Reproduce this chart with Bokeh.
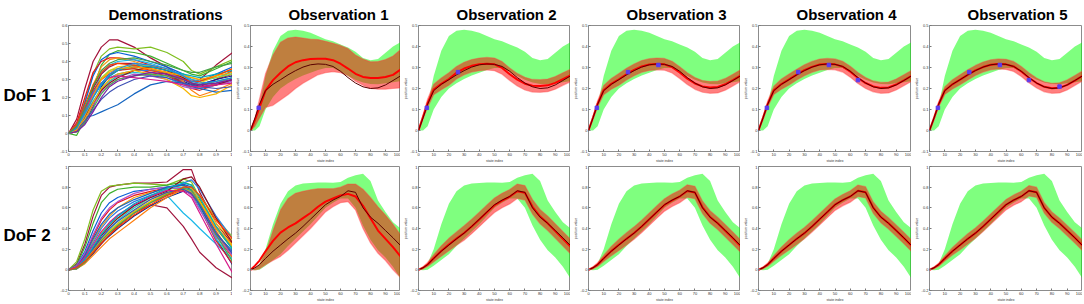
from bokeh.plotting import figure
from bokeh.layouts import row, column
from bokeh.models import FixedTicker
from bokeh.embed import file_html
from bokeh.resources import INLINE

FONT = "Liberation Sans"

# ---------------- data ----------------
TITLES = ["Demonstrations", "Observation 1", "Observation 2", "Observation 3", "Observation 4", "Observation 5"]
ROW_LABELS = ["DoF 1", "DoF 2"]

# demonstrations
X_DEMO = [0, 0.05, 0.1, 0.15, 0.2, 0.25, 0.3, 0.4, 0.5, 0.6, 0.7, 0.75, 0.8, 0.9, 1.0]
DEMO1 = [
    [0, 0.08, 0.25, 0.40, 0.48, 0.52, 0.52, 0.48, 0.42, 0.37, 0.31, 0.29, 0.30, 0.38, 0.45],
    [0, 0.05, 0.18, 0.33, 0.43, 0.47, 0.48, 0.47, 0.48, 0.45, 0.40, 0.35, 0.33, 0.37, 0.41],
    [0, -0.01, 0.08, 0.25, 0.38, 0.44, 0.46, 0.45, 0.43, 0.39, 0.35, 0.33, 0.32, 0.36, 0.40],
    [0, 0.04, 0.17, 0.32, 0.41, 0.44, 0.45, 0.43, 0.40, 0.37, 0.33, 0.30, 0.29, 0.33, 0.37],
    [0, 0.06, 0.20, 0.34, 0.40, 0.42, 0.42, 0.41, 0.38, 0.35, 0.30, 0.28, 0.27, 0.30, 0.35],
    [0, 0.03, 0.12, 0.27, 0.37, 0.41, 0.42, 0.40, 0.37, 0.35, 0.31, 0.27, 0.25, 0.28, 0.31],
    [0, 0.02, 0.10, 0.22, 0.33, 0.38, 0.40, 0.41, 0.39, 0.36, 0.32, 0.30, 0.29, 0.31, 0.34],
    [0, 0.03, 0.13, 0.25, 0.33, 0.37, 0.39, 0.39, 0.36, 0.33, 0.28, 0.26, 0.26, 0.30, 0.33],
    [0, 0.02, 0.09, 0.20, 0.30, 0.35, 0.37, 0.38, 0.38, 0.36, 0.31, 0.28, 0.28, 0.32, 0.36],
    [0, 0.01, 0.06, 0.15, 0.26, 0.32, 0.35, 0.37, 0.36, 0.33, 0.29, 0.27, 0.27, 0.30, 0.32],
    [0, 0.02, 0.11, 0.23, 0.31, 0.35, 0.36, 0.36, 0.35, 0.34, 0.33, 0.31, 0.30, 0.31, 0.33],
    [0, 0.04, 0.14, 0.24, 0.30, 0.33, 0.35, 0.36, 0.34, 0.32, 0.28, 0.25, 0.24, 0.27, 0.30],
    [0, 0.05, 0.15, 0.23, 0.28, 0.31, 0.33, 0.35, 0.35, 0.34, 0.30, 0.28, 0.27, 0.28, 0.30],
    [0, 0.01, 0.07, 0.16, 0.24, 0.29, 0.32, 0.35, 0.36, 0.34, 0.29, 0.24, 0.21, 0.24, 0.28],
    [0, 0.03, 0.10, 0.18, 0.25, 0.29, 0.32, 0.34, 0.33, 0.31, 0.27, 0.25, 0.25, 0.27, 0.29],
    [0, 0.02, 0.08, 0.16, 0.23, 0.27, 0.30, 0.33, 0.32, 0.30, 0.26, 0.25, 0.25, 0.27, 0.29],
    [0, 0.03, 0.09, 0.17, 0.24, 0.28, 0.31, 0.35, 0.37, 0.35, 0.31, 0.28, 0.26, 0.27, 0.30],
    [0, 0.02, 0.09, 0.10, 0.12, 0.14, 0.16, 0.22, 0.27, 0.29, 0.28, 0.26, 0.25, 0.23, 0.24],
    [0, 0.02, 0.08, 0.17, 0.25, 0.30, 0.33, 0.35, 0.33, 0.30, 0.25, 0.21, 0.20, 0.22, 0.27],
    [0, 0.01, 0.06, 0.14, 0.22, 0.27, 0.30, 0.32, 0.33, 0.32, 0.30, 0.28, 0.27, 0.29, 0.31],
    [0, 0.02, 0.07, 0.13, 0.19, 0.23, 0.26, 0.30, 0.32, 0.31, 0.28, 0.27, 0.26, 0.25, 0.26],
    [0, 0.04, 0.13, 0.22, 0.28, 0.31, 0.32, 0.31, 0.30, 0.29, 0.27, 0.26, 0.26, 0.27, 0.28],
    [0, 0.03, 0.12, 0.20, 0.27, 0.32, 0.35, 0.38, 0.37, 0.35, 0.33, 0.32, 0.31, 0.33, 0.35],
    [0, 0.05, 0.16, 0.27, 0.34, 0.38, 0.39, 0.38, 0.35, 0.33, 0.30, 0.29, 0.29, 0.32, 0.36],
    [0, 0.02, 0.10, 0.21, 0.30, 0.34, 0.36, 0.37, 0.36, 0.34, 0.32, 0.31, 0.30, 0.32, 0.34],
    [0, 0.03, 0.11, 0.20, 0.28, 0.33, 0.36, 0.39, 0.38, 0.36, 0.32, 0.29, 0.28, 0.29, 0.31],
    [0, 0.01, 0.05, 0.12, 0.20, 0.26, 0.29, 0.32, 0.34, 0.33, 0.30, 0.28, 0.27, 0.28, 0.30],
    [0, 0.04, 0.14, 0.26, 0.35, 0.39, 0.41, 0.42, 0.40, 0.38, 0.35, 0.34, 0.34, 0.37, 0.39],
]
DEMO2 = [
    [0, 0.06, 0.25, 0.52, 0.72, 0.80, 0.82, 0.84, 0.84, 0.85, 0.97, 0.97, 0.75, 0.45, 0.25],
    [0, 0.08, 0.30, 0.58, 0.76, 0.81, 0.82, 0.84, 0.83, 0.82, 0.88, 0.85, 0.70, 0.42, 0.22],
    [0, 0.05, 0.22, 0.45, 0.65, 0.74, 0.78, 0.80, 0.80, 0.82, 0.85, 0.82, 0.68, 0.40, 0.20],
    [0, 0.04, 0.18, 0.38, 0.55, 0.65, 0.70, 0.76, 0.78, 0.80, 0.83, 0.80, 0.65, 0.35, 0.15],
    [0, 0.03, 0.15, 0.32, 0.48, 0.58, 0.65, 0.72, 0.76, 0.79, 0.82, 0.78, 0.62, 0.33, 0.12],
    [0, 0.03, 0.13, 0.28, 0.42, 0.52, 0.60, 0.70, 0.75, 0.78, 0.80, 0.78, 0.66, 0.40, 0.23],
    [0, 0.02, 0.10, 0.22, 0.35, 0.45, 0.52, 0.62, 0.70, 0.72, 0.55, 0.48, 0.40, 0.25, 0.10],
    [0, 0.02, 0.08, 0.16, 0.25, 0.34, 0.42, 0.55, 0.63, 0.60, 0.42, 0.30, 0.17, 0.02, -0.08],
    [0, 0.02, 0.11, 0.24, 0.36, 0.44, 0.50, 0.60, 0.68, 0.75, 0.80, 0.79, 0.70, 0.45, 0.28],
    [0, 0.01, 0.07, 0.16, 0.26, 0.33, 0.40, 0.52, 0.62, 0.70, 0.76, 0.74, 0.62, 0.30, 0.05],
    [0, 0.02, 0.10, 0.20, 0.30, 0.38, 0.45, 0.57, 0.66, 0.74, 0.80, 0.79, 0.72, 0.50, 0.32],
    [0, 0.02, 0.09, 0.18, 0.28, 0.36, 0.43, 0.55, 0.65, 0.72, 0.77, 0.74, 0.60, 0.28, 0.06],
    [0, 0.03, 0.12, 0.26, 0.40, 0.50, 0.57, 0.66, 0.72, 0.77, 0.84, 0.87, 0.78, 0.52, 0.30],
    [0, 0.01, 0.06, 0.14, 0.22, 0.30, 0.36, 0.48, 0.60, 0.70, 0.78, 0.76, 0.66, 0.38, 0.12],
    [0, 0.02, 0.08, 0.18, 0.30, 0.40, 0.48, 0.60, 0.70, 0.78, 0.80, 0.76, 0.60, 0.30, 0.10],
    [0, 0.04, 0.16, 0.34, 0.50, 0.60, 0.66, 0.74, 0.78, 0.80, 0.78, 0.72, 0.58, 0.32, 0.14],
    [0, 0.02, 0.10, 0.21, 0.33, 0.42, 0.50, 0.62, 0.70, 0.76, 0.88, 0.90, 0.80, 0.50, 0.26],
    [0, 0.03, 0.14, 0.30, 0.44, 0.54, 0.60, 0.68, 0.74, 0.80, 0.82, 0.77, 0.62, 0.35, 0.18],
    [0, 0.02, 0.09, 0.19, 0.29, 0.37, 0.44, 0.56, 0.66, 0.74, 0.78, 0.75, 0.66, 0.42, 0.24],
    [0, 0.01, 0.07, 0.17, 0.28, 0.36, 0.43, 0.55, 0.65, 0.73, 0.79, 0.77, 0.64, 0.34, 0.08],
    [0, 0.02, 0.10, 0.20, 0.31, 0.40, 0.47, 0.58, 0.68, 0.75, 0.78, 0.74, 0.63, 0.36, 0.16],
    [0, 0.03, 0.12, 0.24, 0.37, 0.46, 0.53, 0.63, 0.71, 0.77, 0.76, 0.70, 0.55, 0.25, -0.03],
    [0, 0.02, 0.10, 0.22, 0.34, 0.44, 0.52, 0.64, 0.72, 0.79, 0.84, 0.82, 0.70, 0.42, 0.20],
    [0, 0.02, 0.08, 0.17, 0.26, 0.34, 0.41, 0.53, 0.63, 0.72, 0.80, 0.80, 0.72, 0.48, 0.30],
]
DEMO_COLORS = ["#a3123a", "#7fbf1f", "#3cb02c", "#0a5fd8", "#e8141c", "#f29a10", "#1ab8e8",
               "#a0153e", "#f2d21a", "#0b1f8f", "#9bd63a", "#d62a2a", "#2b7de0", "#ff7f0e",
               "#22c5d8", "#b04fc9", "#8b0f20", "#1565c0", "#f5b400", "#4caf50", "#3f51b5",
               "#d81b8a", "#00acc1", "#ff3d00", "#ffa000", "#1e88e5", "#7b1fa2", "#43a047"]

# observation panels (state index 0..100)
X_OBS = [0, 3, 6, 10, 15, 20, 25, 30, 35, 40, 45, 50, 55, 60, 65, 70, 75, 80, 85, 90, 95, 100]

# DoF 1
PRIOR1_UP = [0, 0.05, 0.12, 0.26, 0.38, 0.45, 0.475, 0.48, 0.475, 0.465, 0.45, 0.435, 0.425, 0.41, 0.395, 0.375, 0.345, 0.335, 0.34, 0.37, 0.40, 0.42]
PRIOR1_LO = [0, 0, 0.02, 0.10, 0.16, 0.20, 0.225, 0.245, 0.262, 0.275, 0.288, 0.298, 0.298, 0.28, 0.26, 0.242, 0.228, 0.222, 0.22, 0.225, 0.23, 0.235]
TRUE1 = [0, 0.06, 0.125, 0.19, 0.22, 0.242, 0.265, 0.285, 0.302, 0.313, 0.317, 0.315, 0.305, 0.282, 0.252, 0.226, 0.208, 0.20, 0.203, 0.217, 0.238, 0.26]
OBS1_MEAN = [0, 0.05, 0.11, 0.19, 0.24, 0.275, 0.305, 0.325, 0.335, 0.34, 0.342, 0.342, 0.335, 0.318, 0.295, 0.27, 0.255, 0.25, 0.25, 0.255, 0.265, 0.29]
OBS1_UP = [0, 0.06, 0.15, 0.27, 0.36, 0.42, 0.44, 0.445, 0.44, 0.435, 0.433, 0.425, 0.415, 0.405, 0.39, 0.36, 0.34, 0.327, 0.328, 0.338, 0.355, 0.385]
OBS1_LO = [0, 0.02, 0.06, 0.11, 0.12, 0.145, 0.17, 0.20, 0.225, 0.245, 0.265, 0.275, 0.28, 0.275, 0.262, 0.235, 0.215, 0.20, 0.197, 0.197, 0.20, 0.203]
MEAN1 = [
    [0, 0.065, 0.13, 0.195, 0.222, 0.245, 0.275, 0.295, 0.308, 0.315, 0.318, 0.315, 0.298, 0.268, 0.242, 0.223, 0.213, 0.212, 0.215, 0.227, 0.245, 0.262],
    [0, 0.062, 0.127, 0.192, 0.222, 0.244, 0.268, 0.289, 0.305, 0.314, 0.317, 0.315, 0.302, 0.276, 0.247, 0.224, 0.21, 0.205, 0.207, 0.22, 0.24, 0.261],
    [0, 0.061, 0.126, 0.191, 0.221, 0.243, 0.266, 0.287, 0.303, 0.314, 0.317, 0.315, 0.304, 0.28, 0.25, 0.226, 0.21, 0.203, 0.205, 0.219, 0.239, 0.26],
    [0, 0.06, 0.125, 0.19, 0.22, 0.242, 0.265, 0.286, 0.302, 0.313, 0.317, 0.315, 0.305, 0.281, 0.251, 0.226, 0.208, 0.201, 0.203, 0.217, 0.238, 0.26],
]
STD1 = [
    [0, 0.01, 0.02, 0.025, 0.028, 0.03, 0.03, 0.03, 0.03, 0.03, 0.03, 0.03, 0.03, 0.03, 0.03, 0.03, 0.03, 0.03, 0.03, 0.03, 0.03, 0.03],
    [0, 0.008, 0.015, 0.022, 0.026, 0.028, 0.028, 0.028, 0.028, 0.028, 0.028, 0.028, 0.028, 0.028, 0.028, 0.028, 0.028, 0.028, 0.028, 0.028, 0.028, 0.028],
    [0, 0.007, 0.014, 0.02, 0.024, 0.026, 0.026, 0.026, 0.026, 0.026, 0.026, 0.026, 0.026, 0.026, 0.026, 0.026, 0.026, 0.026, 0.026, 0.026, 0.026, 0.026],
    [0, 0.006, 0.012, 0.018, 0.022, 0.024, 0.024, 0.024, 0.024, 0.024, 0.024, 0.024, 0.024, 0.024, 0.024, 0.024, 0.024, 0.024, 0.024, 0.024, 0.024, 0.024],
]
OBS_PTS_X = [5.5, 26, 46, 65, 85]
OBS_PTS_Y = [0.108, 0.278, 0.312, 0.24, 0.209]

# DoF 2
PRIOR2_UP = [0, 0.015, 0.06, 0.20, 0.44, 0.64, 0.76, 0.815, 0.835, 0.84, 0.845, 0.845, 0.843, 0.85, 0.89, 0.915, 0.93, 0.86, 0.67, 0.56, 0.46, 0.40]
PRIOR2_LO = [0, -0.005, 0, 0.04, 0.095, 0.15, 0.23, 0.30, 0.37, 0.44, 0.52, 0.60, 0.65, 0.69, 0.69, 0.60, 0.43, 0.29, 0.19, 0.12, 0.03, -0.085]
TRUE2 = [0, 0.02, 0.05, 0.11, 0.18, 0.24, 0.30, 0.355, 0.42, 0.49, 0.56, 0.63, 0.675, 0.71, 0.765, 0.75, 0.60, 0.51, 0.45, 0.38, 0.31, 0.235]
OBS2_MEAN = [0, 0.04, 0.09, 0.18, 0.28, 0.36, 0.41, 0.45, 0.50, 0.55, 0.61, 0.66, 0.69, 0.72, 0.735, 0.71, 0.62, 0.50, 0.38, 0.30, 0.22, 0.13]
OBS2_UP = [0, 0.012, 0.05, 0.16, 0.38, 0.58, 0.69, 0.74, 0.76, 0.775, 0.785, 0.785, 0.785, 0.80, 0.83, 0.83, 0.78, 0.70, 0.61, 0.53, 0.44, 0.34]
OBS2_LO = [0, 0, 0.01, 0.05, 0.09, 0.13, 0.19, 0.26, 0.33, 0.40, 0.48, 0.56, 0.61, 0.65, 0.66, 0.58, 0.40, 0.26, 0.16, 0.09, 0.0, -0.075]
MEAN2 = [
    [0, 0.02, 0.052, 0.112, 0.182, 0.245, 0.302, 0.357, 0.42, 0.488, 0.558, 0.625, 0.67, 0.708, 0.76, 0.745, 0.61, 0.515, 0.45, 0.375, 0.30, 0.225],
    [0, 0.02, 0.051, 0.111, 0.181, 0.242, 0.30, 0.356, 0.42, 0.49, 0.56, 0.628, 0.673, 0.71, 0.763, 0.748, 0.605, 0.512, 0.45, 0.378, 0.305, 0.23],
    [0, 0.02, 0.05, 0.11, 0.18, 0.241, 0.30, 0.355, 0.42, 0.49, 0.56, 0.63, 0.674, 0.71, 0.765, 0.75, 0.602, 0.511, 0.45, 0.38, 0.308, 0.233],
    [0, 0.02, 0.05, 0.11, 0.18, 0.24, 0.30, 0.355, 0.42, 0.49, 0.56, 0.63, 0.675, 0.71, 0.765, 0.75, 0.60, 0.51, 0.45, 0.38, 0.31, 0.235],
]
STD2 = [
    [0, 0.01, 0.02, 0.035, 0.05, 0.06, 0.065, 0.07, 0.07, 0.07, 0.07, 0.07, 0.07, 0.07, 0.07, 0.07, 0.07, 0.07, 0.07, 0.07, 0.07, 0.07],
    [0, 0.01, 0.018, 0.03, 0.045, 0.055, 0.06, 0.06, 0.06, 0.06, 0.06, 0.06, 0.06, 0.06, 0.06, 0.06, 0.06, 0.06, 0.06, 0.06, 0.06, 0.06],
    [0, 0.008, 0.016, 0.028, 0.04, 0.05, 0.055, 0.055, 0.055, 0.055, 0.055, 0.055, 0.055, 0.055, 0.055, 0.055, 0.055, 0.055, 0.055, 0.055, 0.055, 0.055],
    [0, 0.008, 0.015, 0.025, 0.036, 0.045, 0.05, 0.05, 0.05, 0.05, 0.05, 0.05, 0.05, 0.05, 0.05, 0.05, 0.05, 0.05, 0.05, 0.05, 0.05, 0.05],
]

# ticks
DEMO_XT = [0, 0.1, 0.2, 0.3, 0.4, 0.5, 0.6, 0.7, 0.8, 0.9, 1.0]
DEMO_XL = ["0", "0.1", "0.2", "0.3", "0.4", "0.5", "0.6", "0.7", "0.8", "0.9", "1"]
OBS_XT = [0, 10, 20, 30, 40, 50, 60, 70, 80, 90, 100]
OBS_XL = ["0", "10", "20", "30", "40", "50", "60", "70", "80", "90", "100"]
DEMO1_YT = [-0.1, 0, 0.1, 0.2, 0.3, 0.4, 0.5, 0.6]
DEMO1_YL = ["-0.1", "0", "0.1", "0.2", "0.3", "0.4", "0.5", "0.6"]
OBS1_YT = [-0.1, 0, 0.1, 0.2, 0.3, 0.4, 0.5]
OBS1_YL = ["-0.1", "0", "0.1", "0.2", "0.3", "0.4", "0.5"]
ROW2_YT = [-0.2, 0, 0.2, 0.4, 0.6, 0.8, 1.0]
ROW2_YL = ["-0.2", "0", "0.2", "0.4", "0.6", "0.8", "1"]

# ---------------- drawing ----------------
DEMO_W, DEMO_BL = 232, 64
OBS_W = [168, 170, 170, 171, 171]
OBS_BL = [11, 13, 13, 14, 13]
ROW_H = [165, 139]
TITLE_OFFSETS = [40, 38, 38, 38, 38, 38]


def make_fig(w, h, xr, yr, bl, bt, bb, title=None, toff=44):
    p = figure(width=w, height=h, x_range=xr, y_range=yr, output_backend="svg",
               toolbar_location=None, min_border_left=bl, min_border_right=0,
               min_border_top=bt, min_border_bottom=bb)
    p.grid.visible = False
    p.outline_line_color = "#8c8c8c"
    p.outline_line_width = 1
    p.background_fill_color = "white"
    p.border_fill_color = "white"
    if title is not None:
        p.title.text = title
        p.title.text_font = FONT
        p.title.text_font_size = "15px"
        p.title.text_font_style = "bold"
        p.title.text_color = "black"
        p.title.align = "left"
        p.title.offset = toff
        p.title.standoff = 6
    return p


def style_axes(p, xt, xl, yt, yl, xlab=None, ylab=None):
    p.xaxis.ticker = FixedTicker(ticks=xt)
    p.yaxis.ticker = FixedTicker(ticks=yt)
    p.xaxis.major_label_overrides = dict(zip(xt, xl))
    p.yaxis.major_label_overrides = dict(zip(yt, yl))
    for ax in (p.xaxis[0], p.yaxis[0]):
        ax.major_label_text_font_size = "4px"
        ax.major_label_text_font = FONT
        ax.major_label_text_color = "#333333"
        ax.major_label_standoff = 1
        ax.major_tick_in = 2
        ax.major_tick_out = 0
        ax.major_tick_line_color = "#777777"
        ax.minor_tick_line_color = None
        ax.axis_line_color = None
        ax.axis_label_text_font = FONT
        ax.axis_label_text_font_size = "3.5px"
        ax.axis_label_text_font_style = "normal"
        ax.axis_label_text_color = "#333333"
        ax.axis_label_standoff = 0
    if xlab:
        p.xaxis.axis_label = xlab
    if ylab:
        p.yaxis.axis_label = ylab


def demo_fig(r):
    h = ROW_H[r]
    bt = 5 if r == 0 else 1
    yr = (-0.1, 0.6) if r == 0 else (-0.2, 1.0)
    p = make_fig(DEMO_W, h, (0, 1), yr, DEMO_BL, bt, 6, TITLES[0] if r == 0 else None, TITLE_OFFSETS[0])
    yt, yl = (DEMO1_YT, DEMO1_YL) if r == 0 else (ROW2_YT, ROW2_YL)
    style_axes(p, DEMO_XT, DEMO_XL, yt, yl)
    # leading blank line pushes the row label slightly below the frame centre, as in the original
    p.yaxis.axis_label = "\n" + ROW_LABELS[r]
    p.yaxis.axis_label_orientation = "horizontal"
    p.yaxis.axis_label_text_font_size = "17px"
    p.yaxis.axis_label_text_font_style = "bold"
    p.yaxis.axis_label_text_color = "black"
    p.yaxis.axis_label_text_line_height = 0.75
    p.yaxis.axis_label_standoff = 7
    curves = DEMO1 if r == 0 else DEMO2
    for i, ys in enumerate(curves):
        p.line(X_DEMO, ys, line_color=DEMO_COLORS[i % len(DEMO_COLORS)], line_width=1.2)
    return p


def obs_fig(r, k):
    h = ROW_H[r]
    bt = 5 if r == 0 else 1
    yr = (-0.1, 0.5) if r == 0 else (-0.2, 1.0)
    p = make_fig(OBS_W[k], h, (0, 100), yr, OBS_BL[k], bt, 6, TITLES[k + 1] if r == 0 else None,
                 TITLE_OFFSETS[k + 1])
    yt, yl = (OBS1_YT, OBS1_YL) if r == 0 else (ROW2_YT, ROW2_YL)
    style_axes(p, OBS_XT, OBS_XL, yt, yl, "state index", "position value")
    pu, pl, tr = (PRIOR1_UP, PRIOR1_LO, TRUE1) if r == 0 else (PRIOR2_UP, PRIOR2_LO, TRUE2)
    p.varea(x=X_OBS, y1=pl, y2=pu, fill_color="#00ff00", fill_alpha=0.5)
    if k == 0:
        mean, up, lo = (OBS1_MEAN, OBS1_UP, OBS1_LO) if r == 0 else (OBS2_MEAN, OBS2_UP, OBS2_LO)
    else:
        mean = (MEAN1 if r == 0 else MEAN2)[k - 1]
        sd = (STD1 if r == 0 else STD2)[k - 1]
        up = [m + s for m, s in zip(mean, sd)]
        lo = [m - s for m, s in zip(mean, sd)]
    p.varea(x=X_OBS, y1=lo, y2=up, fill_color="#ff0000", fill_alpha=0.5)
    p.line(X_OBS, up, line_color="#ff4040", line_alpha=0.4, line_width=1.2)
    p.line(X_OBS, lo, line_color="#ff4040", line_alpha=0.4, line_width=1.2)
    p.line(X_OBS, mean, line_color="#ff0000", line_width=2)
    p.line(X_OBS, tr, line_color="#5a0000", line_width=1)
    if r == 0:
        p.scatter(OBS_PTS_X[:k + 1], OBS_PTS_Y[:k + 1], marker="square", size=3.5,
                  fill_color="#5b3cf0", line_color="#5b3cf0")
    return p


rows = []
for r in range(2):
    figs = [demo_fig(r)] + [obs_fig(r, k) for k in range(5)]
    rows.append(row(*figs))
layout = column(*rows)

open("out.html", "w").write(file_html(layout, INLINE))
